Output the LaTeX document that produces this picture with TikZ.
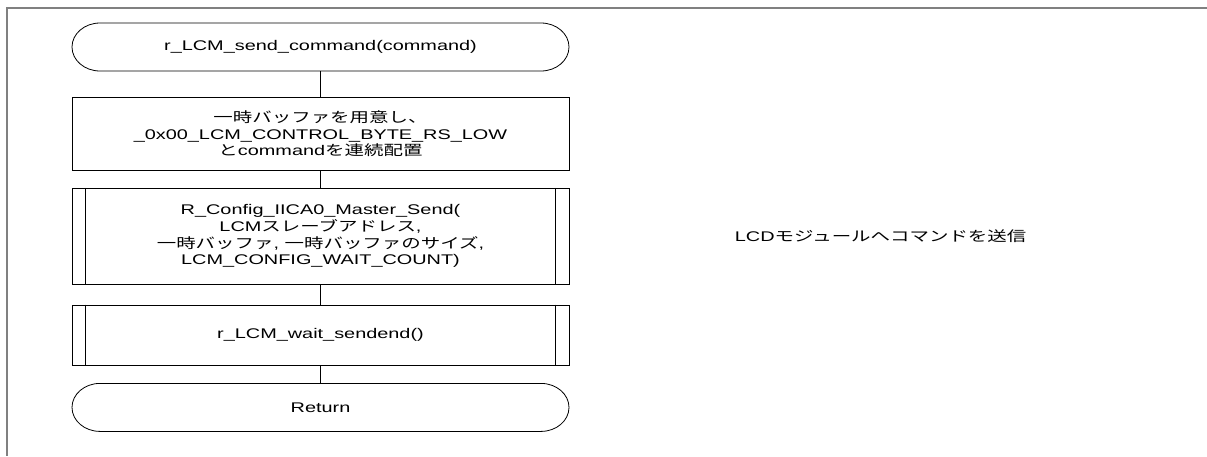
\documentclass[tikz,border=0pt]{standalone}
\usepackage{fontspec}
\setmainfont[FakeStretch=1.42]{Liberation Sans}
\newfontfamily\jp[FakeStretch=1.39]{Noto Sans CJK JP}
\usepackage{tikz}
\usetikzlibrary{positioning}
\tikzstyle{term}    = [rectangle, minimum width=497pt, minimum height=48pt, text centered, outer sep=0pt]
\tikzstyle{proc}    = [rectangle, minimum width=497pt, text centered, align=center, draw=black, line width=0.8pt]
\tikzstyle{subproc} = [proc, append after command={([xshift=14pt]\tikzlastnode.north west) edge[line width=0.8pt] ([xshift=14pt]\tikzlastnode.south west) ([xshift=-14pt]\tikzlastnode.north east) edge[line width=0.8pt] ([xshift=-14pt]\tikzlastnode.south east)}]
\tikzstyle{flow}    = [line width=0.8pt]
\tikzstyle{endarc}  = [x radius=28pt, y radius=24pt]

\begin{document}
\begin{tikzpicture}[x=1pt, y=1pt, every node/.style={font=\fontsize{14}{16.7}\selectfont}]
  \useasboundingbox (0,0) rectangle (1207,-456);
  % Frame
  \draw[gray, line width=1.2pt] (1207,-8) -- (7,-8) -- (7,-456);

  % Flow chart
  \node[term] (start) at (320.5,-47) {r\_LCM\_send\_command(command)};
  \node[proc, minimum height=73pt, below=26pt of start] (prep) {{\jp 一時バッファを用意し、}\\\_0x00\_LCM\_CONTROL\_BYTE\_RS\_LOW\\{\jp と}command{\jp を連続配置}};
  \node[subproc, minimum height=96pt, below=17pt of prep] (send) {R\_Config\_IICA0\_Master\_Send(\\LCM{\jp スレーブアドレス},\\{\jp 一時バッファ}, {\jp 一時バッファのサイズ},\\LCM\_CONFIG\_WAIT\_COUNT)};
  \node[subproc, minimum height=60pt, below=20pt of send] (wait) {r\_LCM\_wait\_sendend()};
  \node[term, below=18pt of wait] (ret) {Return};

  % Terminal outlines
  \draw[flow] ([xshift=28pt]start.north west) -- ([xshift=-28pt]start.north east) arc[endarc, start angle=90, end angle=-90] -- ([xshift=28pt]start.south west) arc[endarc, start angle=270, end angle=90] -- cycle;
  \draw[flow] ([xshift=28pt]ret.north west) -- ([xshift=-28pt]ret.north east) arc[endarc, start angle=90, end angle=-90] -- ([xshift=28pt]ret.south west) arc[endarc, start angle=270, end angle=90] -- cycle;

  % Comment
  \node[right=162pt of send] (note) {LCD{\jp モジュールへコマンドを送信}};

  % Flows
  \draw[flow] (start) -- (prep);
  \draw[flow] (prep) -- (send);
  \draw[flow] (send) -- (wait);
  \draw[flow] (wait) -- (ret);
\end{tikzpicture}
\end{document}
